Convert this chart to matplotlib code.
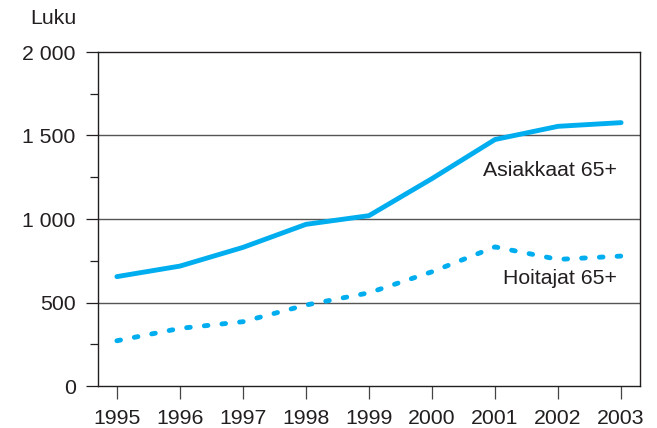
import matplotlib
matplotlib.use("Agg")
from matplotlib import pyplot as plt
from matplotlib.ticker import FixedLocator, FuncFormatter

years = [1995, 1996, 1997, 1998, 1999, 2000, 2001, 2002, 2003]
asiakkaat = [655, 718, 830, 968, 1020, 1242, 1476, 1555, 1577]
hoitajat = [271, 345, 385, 485, 558, 684, 833, 758, 778]

plt.rcParams['font.family'] = ['Liberation Sans', 'DejaVu Sans']
blue = '#00aeef'
dark = '#231f20'

fig = plt.figure(figsize=(6.57, 4.28), dpi=100)
ax = fig.add_axes([98/657, 1 - 386/428, 542/657, 334/428])

ax.plot(years, asiakkaat, color=blue, linewidth=3.5, solid_capstyle='round',
        solid_joinstyle='round')
ax.plot(years, hoitajat, color=blue, linewidth=3.5, dashes=(0.75, 2.9),
        dash_capstyle='round', dash_joinstyle='round')

ax.set_xlim(1994.70, 2003.30)
ax.set_ylim(0, 2000)
for v in [500, 1000, 1500]:
    ax.axhline(v, color='#555555', linewidth=1.0, zorder=0)

ax.yaxis.set_major_locator(FixedLocator([0, 500, 1000, 1500, 2000]))
ax.yaxis.set_minor_locator(FixedLocator([250, 750, 1250, 1750]))
ax.yaxis.set_major_formatter(FuncFormatter(lambda v, p: f"{int(v):,}".replace(",", " ")))
ax.set_xticks(years)
ax.tick_params(axis='y', which='major', length=8.6, width=0.9, color=dark,
               labelsize=15.3, pad=7.5, labelcolor=dark)
ax.tick_params(axis='y', which='minor', length=5.8, width=0.9, color=dark)
ax.tick_params(axis='x', length=9, width=0.9, color='#444444', labelsize=15.3,
               pad=7.8, labelcolor=dark)
for s in ax.spines.values():
    s.set_color(dark)
    s.set_linewidth(1.0)

ax.text(2002.94, 1292, 'Asiakkaat 65+', ha='right', va='center', fontsize=15.3, color=dark)
ax.text(2002.94, 646, 'Hoitajat 65+', ha='right', va='center', fontsize=15.3, color=dark)
fig.text(77/657, 1 - 18/428, 'Luku', ha='right', va='center', fontsize=15.3, color=dark)

plt.savefig('out.png', dpi=100)
